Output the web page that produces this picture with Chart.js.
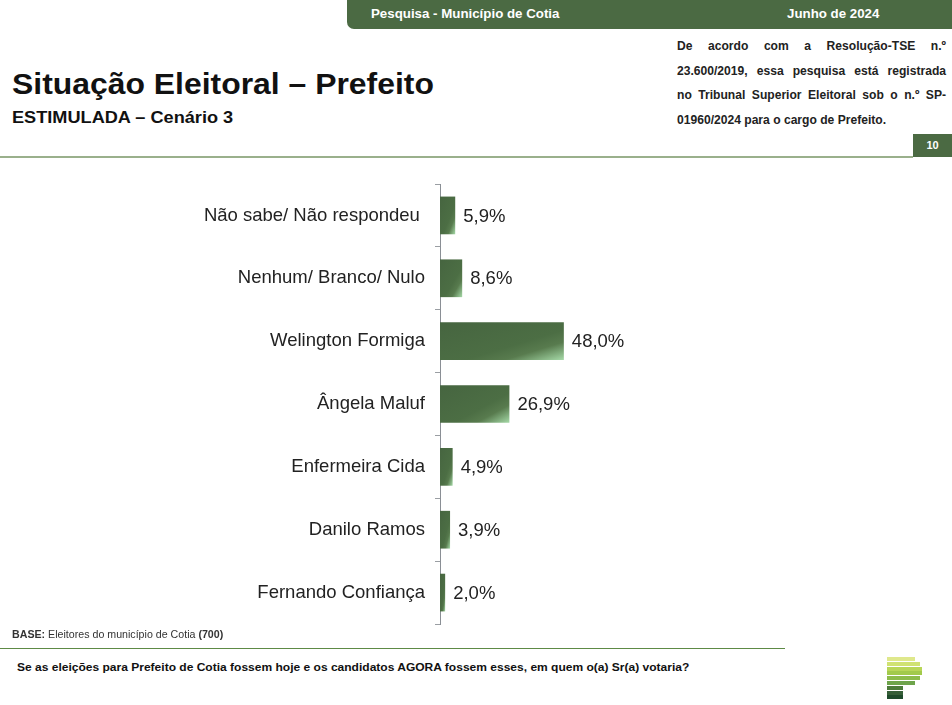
<!DOCTYPE html>
<html lang="pt">
<head>
    <meta charset="UTF-8">
    <title>Situação Eleitoral – Prefeito</title>
    <script src="https://cdn.jsdelivr.net/npm/chart.js"></script>
    <style>
        body {
            margin: 0;
            width: 952px;
            height: 705px;
            position: relative;
            overflow: hidden;
            background: #fff;
            font-family: "Liberation Sans", Arial, sans-serif;
            color: #111;
        }
        .topbar {
            position: absolute;
            left: 347px;
            top: 0;
            width: 605px;
            height: 29px;
            background: #4b6a43;
            border-bottom-left-radius: 7px;
            color: #fff;
            font-weight: bold;
            font-size: 13.3px;
        }
        .topbar span { position: absolute; top: 6px; }
        .stretch {
            transform: scaleX(1.1);
            transform-origin: left top;
        }
        .title {
            position: absolute;
            left: 12px;
            top: 68px;
            font-size: 29px;
            font-weight: bold;
            white-space: nowrap;
        }
        .subtitle {
            position: absolute;
            left: 12px;
            top: 108px;
            font-size: 16.5px;
            font-weight: bold;
            white-space: nowrap;
        }
        .legal {
            position: absolute;
            left: 677px;
            top: 34px;
            width: 269px;
            font-size: 12.1px;
            font-weight: bold;
            line-height: 24.7px;
            color: #222;
        }
        .legal div {
            white-space: nowrap;
            text-align: justify;
            text-align-last: justify;
        }
        .legal div.last { text-align-last: left; }
        .page {
            position: absolute;
            left: 913px;
            top: 134px;
            width: 39px;
            height: 23px;
            background: #4b6a43;
            color: #fff;
            font-size: 11px;
            font-weight: bold;
            text-align: center;
            line-height: 23px;
        }
        .rule-top {
            position: absolute;
            left: 0;
            top: 156px;
            width: 913px;
            height: 2px;
            background: #9ab08c;
        }
        .chart-box {
            position: absolute;
            left: 0;
            top: 170px;
            width: 760px;
            height: 470px;
        }
        .base {
            position: absolute;
            left: 12px;
            top: 629px;
            font-size: 10.2px;
            color: #333;
            white-space: nowrap;
            transform: scaleX(1.045);
            transform-origin: left top;
        }
        .rule-bottom {
            position: absolute;
            left: 0;
            top: 648px;
            width: 785px;
            height: 1px;
            background: #5d8a45;
        }
        .question {
            position: absolute;
            left: 17px;
            top: 661px;
            font-size: 11.5px;
            font-weight: bold;
            color: #111;
            white-space: nowrap;
            transform: scaleX(1.045);
            transform-origin: left top;
        }
        .logo {
            position: absolute;
            left: 887px;
            top: 657px;
        }
        .logo div { height: 4px; margin-bottom: 0.8px; }
    </style>
</head>
<body>
    <div class="topbar">
        <span style="left: 24px;">Pesquisa - Município de Cotia</span>
        <span style="left: 440px;">Junho de 2024</span>
    </div>

    <div class="title stretch">Situação Eleitoral – Prefeito</div>
    <div class="subtitle stretch">ESTIMULADA – Cenário 3</div>
    <div class="legal">
        <div>De acordo com a Resolução-TSE n.º</div>
        <div>23.600/2019, essa pesquisa está registrada</div>
        <div>no Tribunal Superior Eleitoral sob o n.º SP-</div>
        <div class="last">01960/2024 para o cargo de Prefeito.</div>
    </div>
    <div class="page">10</div>
    <div class="rule-top"></div>

    <div class="chart-box">
        <canvas id="votosChart"></canvas>
    </div>

    <div class="base"><b>BASE:</b> Eleitores do município de Cotia <b>(700)</b></div>
    <div class="rule-bottom"></div>
    <div class="question">Se as eleições para Prefeito de Cotia fossem hoje e os candidatos AGORA fossem esses, em quem o(a) Sr(a) votaria?</div>

    <div class="logo">
        <div style="width: 28px; background: #dfe88c;"></div>
        <div style="width: 33px; background: #d0e272;"></div>
        <div style="width: 35px; background: #b8d657;"></div>
        <div style="width: 35px; background: #a2ca4b;"></div>
        <div style="width: 33px; background: #8dbc4b;"></div>
        <div style="width: 28px; background: #6ea44b;"></div>
        <div style="width: 16px; background: #4d7b3b;"></div>
        <div style="width: 16px; background: #365f38;"></div>
        <div style="width: 16px; background: #1f4a2b;"></div>
    </div>

    <script>
        // Data
        const candidates = [
            'Não sabe/ Não respondeu ',
            'Nenhum/ Branco/ Nulo',
            'Welington Formiga',
            'Ângela Maluf',
            'Enfermeira Cida',
            'Danilo Ramos',
            'Fernando Confiança'
        ];
        const percentages = [5.9, 8.6, 48.0, 26.9, 4.9, 3.9, 2.0];

        const BAR_PCT = 0.6;
        const FONT = '"Liberation Sans", Arial, sans-serif';

        function formatPct(v) {
            return v.toFixed(1).replace('.', ',') + '%';
        }

        // Diagonal gradient scaled to each bar's box (light corner bottom-right)
        function barGradient(context) {
            const chart = context.chart;
            const xs = chart.scales.x;
            const ys = chart.scales.y;
            if (!chart.chartArea || !xs || !ys) return '#4b6c43';
            const x0 = xs.getPixelForValue(0);
            const x1 = xs.getPixelForValue(context.raw);
            const yc = ys.getPixelForValue(context.dataIndex);
            const half = (ys.height / candidates.length) * BAR_PCT / 2;
            const yt = yc - half;
            const w = Math.max(x1 - x0, 1);
            const h = half * 2;
            const k = 2 * w * h / (w * w + h * h);
            const g = chart.ctx.createLinearGradient(x0, yt, x0 + k * h, yt + k * w);
            g.addColorStop(0, '#466540');
            g.addColorStop(0.6, '#4c6e44');
            g.addColorStop(0.76, '#587b4e');
            g.addColorStop(1, '#a6daa8');
            return g;
        }

        const valueLabels = {
            id: 'valueLabels',
            afterDatasetsDraw(chart) {
                const ctx = chart.ctx;
                const meta = chart.getDatasetMeta(0);
                ctx.save();
                ctx.font = '18.5px ' + FONT;
                ctx.fillStyle = '#222';
                ctx.textAlign = 'left';
                ctx.textBaseline = 'middle';
                meta.data.forEach((bar, i) => {
                    ctx.fillText(formatPct(percentages[i]), bar.x + 8, bar.y + 1);
                });
                ctx.restore();
            }
        };

        new Chart(document.getElementById('votosChart'), {
            type: 'bar',
            data: {
                labels: candidates,
                datasets: [{
                    data: percentages,
                    backgroundColor: barGradient,
                    borderWidth: 0,
                    categoryPercentage: 1,
                    barPercentage: BAR_PCT
                }]
            },
            options: {
                indexAxis: 'y',
                responsive: true,
                maintainAspectRatio: false,
                animation: false,
                layout: {
                    padding: { top: 14, bottom: 16, left: 0, right: 62 }
                },
                plugins: {
                    legend: { display: false },
                    tooltip: { enabled: false }
                },
                scales: {
                    x: {
                        display: false,
                        min: 0,
                        max: 100
                    },
                    y: {
                        afterFit(scale) {
                            scale.width = 440;
                            scale.paddingTop = 0;
                            scale.paddingBottom = 0;
                        },
                        border: { color: '#8a8f95', width: 1 },
                        grid: {
                            drawOnChartArea: false,
                            drawTicks: true,
                            tickLength: 5,
                            color: '#9a9ea3'
                        },
                        ticks: {
                            padding: 10,
                            color: '#222',
                            font: { family: FONT, size: 18.5 }
                        }
                    }
                }
            },
            plugins: [valueLabels]
        });
    </script>
</body>
</html>
